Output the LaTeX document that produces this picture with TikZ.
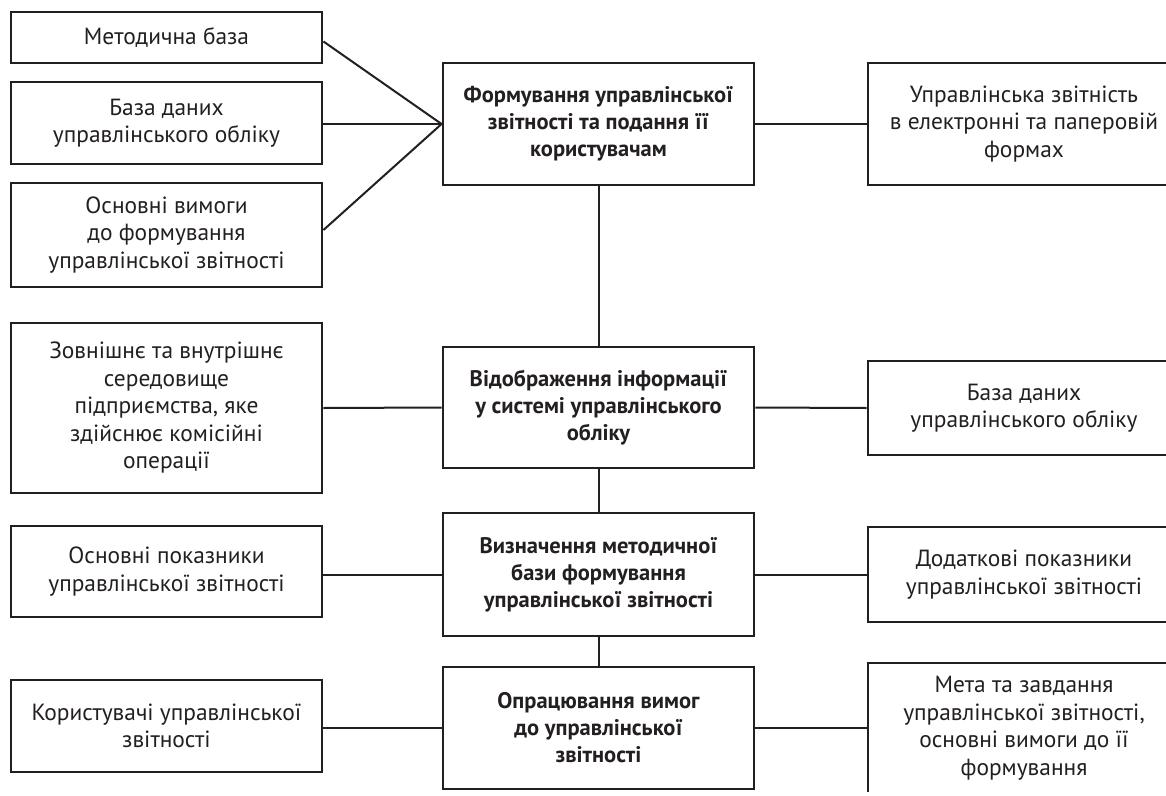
\documentclass[tikz,border=0pt]{standalone}
\usepackage{fontspec}
\setmainfont{PT Sans}
\definecolor{ink}{HTML}{231F20}
\begin{document}
\begin{tikzpicture}[x=1pt,y=-1pt,
  box/.style={draw=ink,line width=2.9pt,rectangle,align=center,inner sep=2pt,
    font=\fontsize{23.4}{27.5}\selectfont,text=ink},
  lbox/.style={box,minimum width=311pt},
  cbox/.style={box,minimum width=311pt,minimum height=122pt,
    font=\fontsize{22.5}{27}\selectfont\bfseries},
  rbox/.style={box,minimum width=312pt},
  link/.style={draw=ink,line width=2pt}]
\useasboundingbox (0,0) rectangle (1166,795);
\clip (0,0) rectangle (1166,791.2);
% left column
\node[lbox,minimum height=51pt] (L1) at (166.5,37.5) {Методична база};
\node[lbox,minimum height=82pt] (L2) at (166.5,123) {База даних\\управлінського обліку};
\node[lbox,minimum height=104pt] (L3) at (166.5,235) {Основні вимоги\\до формування\\управлінської звітності};
\node[lbox,minimum height=170pt] (L4) at (166.5,408) {Зовнішнє та внутрішнє\\середовище\\підприємства, яке\\здійснює комісійні\\операції};
\node[lbox,minimum height=91pt] (L5) at (166.5,571.5) {Основні показники\\управлінської звітності};
\node[lbox,minimum height=92pt] (L6) at (166.5,726) {Користувачі управлінської\\звітності};
% centre column
\node[cbox] (C1) at (598.5,124) {Формування управлінської\\звітності та подання її\\користувачам};
\node[cbox,minimum height=121pt] (C2) at (598.5,407.5) {Відображення інформації\\у системі управлінського\\обліку};
\node[cbox,minimum height=123pt] (C3) at (598.5,574.5) {Визначення методичної\\бази формування\\управлінської звітності};
\node[cbox] (C4) at (598.5,728) {Опрацювання вимог\\до управлінської\\звітності};
% right column
\node[rbox,minimum height=122pt] (R1) at (1024,124) {Управлінська звітність\\в електронні та паперовій\\формах};
\node[rbox,minimum height=94pt] (R2) at (1024,408) {База даних\\управлінського обліку};
\node[rbox,minimum height=95pt] (R3) at (1024,574.5) {Додаткові показники\\управлінської звітності};
\node[rbox,minimum height=130pt] (R4) at (1024,728) {Мета та завдання\\управлінської звітності,\\основні вимоги до її\\формування};
% connectors
\draw[link] ([yshift=-4pt]L1.east) -- (C1.west);
\draw[link] (L2.east |- C1.west) -- (C1.west);
\draw[link] ([yshift=5pt]L3.east) -- (C1.west);
\draw[link] (C1.east) -- (R1.west);
\draw[link] (C1.south) -- (C2.north);
\draw[link] (L4.east) -- (C2.west);
\draw[link] (C2.east) -- (R2.west);
\draw[link] (C2.south) -- (C3.north);
\draw[link] (L5.east |- C3.west) -- (C3.west);
\draw[link] (C3.east) -- (R3.west);
\draw[link] (C3.south) -- (C4.north);
\draw[link] (L6.east |- C4.west) -- (C4.west);
\draw[link] (C4.east) -- (R4.west);
\end{tikzpicture}
\end{document}
